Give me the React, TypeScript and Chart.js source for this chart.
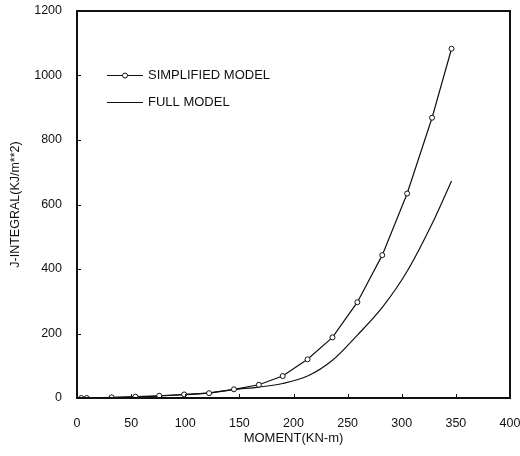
import React, { useEffect, useRef } from "react";
import { Chart, registerables } from "chart.js";

Chart.register(...registerables);

// ---- data ----
const seriesNames = ["SIMPLIFIED MODEL", "FULL MODEL"];
const simplifiedMoment = [4, 9, 32, 54, 76, 99, 122, 145, 168, 190, 213, 236, 259, 282, 305, 328, 346];
const simplifiedJ = [0, 0, 2, 4, 7, 11, 15, 27, 41, 68, 120, 188, 297, 443, 634, 869, 1083];
const fullMoment = [4, 9, 32, 54, 76, 99, 122, 145, 168, 190, 213, 236, 259, 282, 305, 328, 346];
const fullJ = [0, 0, 1, 3, 6, 10, 16, 26, 34, 45, 68, 117, 195, 281, 393, 540, 673];
const xTitle = "MOMENT(KN-m)";
const yTitle = "J-INTEGRAL(KJ/m**2)";
const xMin = 0, xMax = 400, xStep = 50;
const yMin = 0, yMax = 1200, yStep = 200;

const FONT = "'Liberation Sans', Arial, Helvetica, sans-serif";
const INK = "#111";

const framePlugin = {
  id: "frameAndLegend",
  afterDatasetsDraw(chart: any) {
    const { ctx, chartArea } = chart;
    const { left, right, top, bottom } = chartArea;
    ctx.save();
    // inward tick marks
    ctx.strokeStyle = INK;
    ctx.lineWidth = 1;
    const xs = chart.scales.x;
    const ys = chart.scales.y;
    xs.ticks.forEach((t: any) => {
      const px = Math.round(xs.getPixelForValue(t.value)) + 0.5;
      ctx.beginPath();
      ctx.moveTo(px, bottom);
      ctx.lineTo(px, bottom - 4);
      ctx.stroke();
    });
    ys.ticks.forEach((t: any) => {
      const py = Math.round(ys.getPixelForValue(t.value)) + 0.5;
      ctx.beginPath();
      ctx.moveTo(left, py);
      ctx.lineTo(left + 4, py);
      ctx.stroke();
    });
    // frame
    ctx.lineWidth = 2;
    ctx.strokeRect(left, top, right - left, bottom - top);

    // legend inside the plot
    const lx0 = left + 30;
    const lx1 = left + 66;
    const rows = [top + 64, top + 91];
    chart.data.datasets.forEach((ds: any, i: number) => {
      const y = rows[i] + 0.5;
      ctx.strokeStyle = ds.borderColor;
      ctx.lineWidth = ds.borderWidth;
      ctx.beginPath();
      ctx.moveTo(lx0, y);
      ctx.lineTo(lx1, y);
      ctx.stroke();
      if (ds.pointRadius > 0) {
        ctx.beginPath();
        ctx.arc((lx0 + lx1) / 2, y, ds.pointRadius, 0, Math.PI * 2);
        ctx.fillStyle = ds.pointBackgroundColor;
        ctx.fill();
        ctx.lineWidth = ds.pointBorderWidth;
        ctx.strokeStyle = ds.pointBorderColor;
        ctx.stroke();
      }
      ctx.fillStyle = INK;
      ctx.font = `13px ${FONT}`;
      ctx.textBaseline = "middle";
      ctx.textAlign = "left";
      ctx.fillText(ds.label, lx1 + 5, y);
    });
    ctx.restore();
  },
};

const noPad = (s: any) => {
  s.paddingLeft = 0;
  s.paddingRight = 0;
  s.paddingTop = 0;
  s.paddingBottom = 0;
};

export default function App() {
  const ref = useRef<HTMLCanvasElement | null>(null);

  useEffect(() => {
    document.body.style.margin = "0";
    const canvas = ref.current;
    if (!canvas) return;
    const chart = new Chart(canvas, {
      type: "line",
      data: {
        datasets: [
          {
            label: seriesNames[0],
            data: simplifiedMoment.map((x, i) => ({ x, y: simplifiedJ[i] })),
            borderColor: INK,
            borderWidth: 1.2,
            pointRadius: 2.5,
            pointBackgroundColor: "#fff",
            pointBorderColor: INK,
            pointBorderWidth: 1,
            tension: 0,
            fill: false,
          },
          {
            label: seriesNames[1],
            data: fullMoment.map((x, i) => ({ x, y: fullJ[i] })),
            borderColor: INK,
            borderWidth: 1.2,
            pointRadius: 0,
            pointBackgroundColor: "#fff",
            pointBorderColor: INK,
            pointBorderWidth: 1,
            cubicInterpolationMode: "monotone",
            fill: false,
          },
        ],
      },
      options: {
        responsive: false,
        animation: false,
        events: [],
        layout: { padding: { left: 8, top: 11, right: 10, bottom: 10 } },
        plugins: {
          legend: { display: false },
          tooltip: { enabled: false },
        },
        scales: {
          x: {
            type: "linear",
            min: xMin,
            max: xMax,
            grid: { display: false, drawTicks: false },
            border: { display: false },
            ticks: {
              stepSize: xStep,
              padding: 18,
              color: INK,
              font: { family: FONT, size: 12.5 },
              maxRotation: 0,
              callback: (v: any) => String(v),
            },
            title: {
              display: true,
              text: xTitle,
              color: INK,
              font: { family: FONT, size: 13 },
              padding: 0,
            },
            afterFit: (s: any) => {
              s.height = 48;
              noPad(s);
            },
          },
          y: {
            type: "linear",
            min: yMin,
            max: yMax,
            grid: { display: false, drawTicks: false },
            border: { display: false },
            ticks: {
              stepSize: yStep,
              padding: 15,
              color: INK,
              font: { family: FONT, size: 12.5 },
              callback: (v: any) => String(v),
            },
            title: {
              display: true,
              text: yTitle,
              color: INK,
              font: { family: FONT, size: 12.5 },
              padding: 0,
            },
            afterFit: (s: any) => {
              s.width = 69;
              noPad(s);
            },
          },
        },
      },
      plugins: [framePlugin],
    });
    return () => chart.destroy();
  }, []);

  return (
    <div style={{ width: 520, height: 456, background: "#fff" }}>
      <canvas ref={ref} width={520} height={456} />
    </div>
  );
}
